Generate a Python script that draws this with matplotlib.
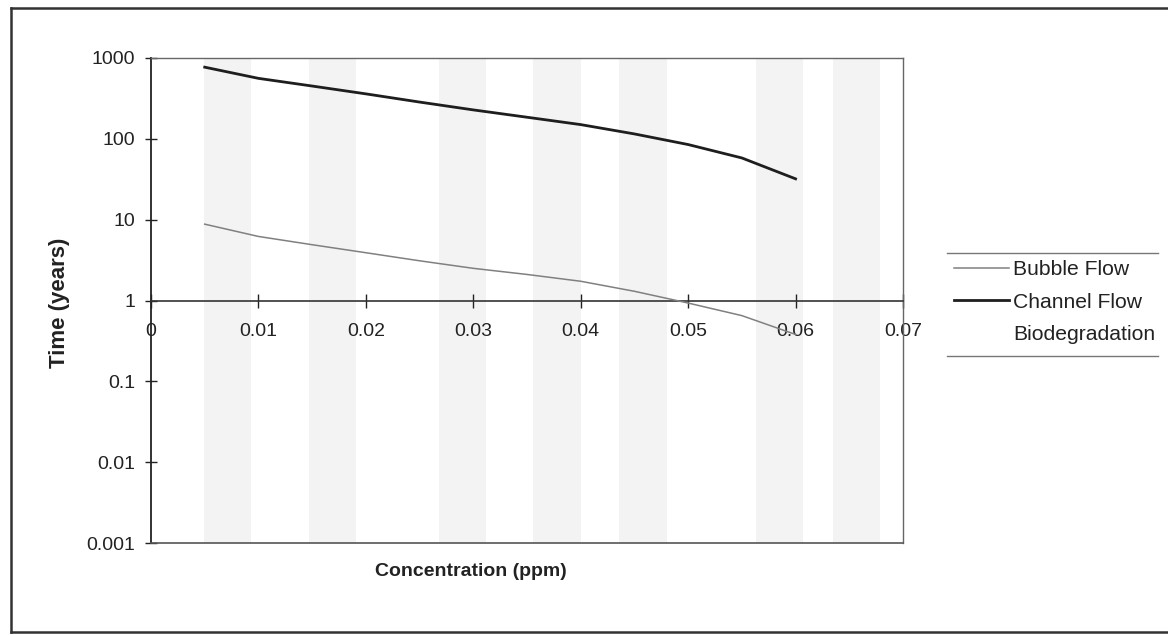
import matplotlib
matplotlib.use("Agg")
import matplotlib.pyplot as plt
from matplotlib.ticker import NullLocator
from matplotlib.lines import Line2D

plt.rcParams['font.family'] = ['Liberation Sans', 'DejaVu Sans']

# ---- data ----
concentration = [0.005, 0.01, 0.015, 0.02, 0.025, 0.03, 0.035, 0.04, 0.045, 0.05, 0.055, 0.06]
bubble_flow = [8.8, 6.2, 4.9, 3.9, 3.1, 2.5, 2.1, 1.73, 1.3, 0.93, 0.65, 0.38]
channel_flow = [770, 560, 450, 360, 285, 228, 185, 150, 115, 85, 58, 32]
biodegradation = []

x_ticks = [0, 0.01, 0.02, 0.03, 0.04, 0.05, 0.06, 0.07]
x_tick_labels = ['0', '0.01', '0.02', '0.03', '0.04', '0.05', '0.06', '0.07']
y_ticks = [0.001, 0.01, 0.1, 1, 10, 100, 1000]
y_tick_labels = ['0.001', '0.01', '0.1', '1', '10', '100', '1000']
series_names = ['Bubble Flow', 'Channel Flow', 'Biodegradation']

# faint scanner bands (style only)
band_centers = [0.0071, 0.0169, 0.029, 0.0378, 0.0458, 0.0585, 0.0657]
band_half = 0.0022

fig = plt.figure(figsize=(11.68, 6.35), dpi=100)
ax = fig.add_axes([151 / 1168, 1 - 543 / 635, (903 - 151) / 1168, (543 - 58) / 635])
ax.set_yscale('log')
ax.set_xlim(0, 0.07)
ax.set_ylim(0.001, 1000)

for c in band_centers:
    ax.axvspan(c - band_half, c + band_half, color='#f3f3f3', lw=0, zorder=0)

ax.plot(concentration, bubble_flow, color='#808080', lw=1.1, label=series_names[0], zorder=3)
ax.plot(concentration, channel_flow, color='#1e1e1e', lw=2.0, label=series_names[1], zorder=3)
ax.plot(biodegradation, biodegradation, color='none', label=series_names[2])

# spines
for s in ['top', 'right']:
    ax.spines[s].set_color('#666666')
    ax.spines[s].set_linewidth(1.0)
ax.spines['left'].set_color('#222222')
ax.spines['left'].set_linewidth(1.3)
ax.spines['bottom'].set_position(('data', 1))
ax.spines['bottom'].set_color('#333333')
ax.spines['bottom'].set_linewidth(1.2)
ax.axhline(0.001, color='#555555', lw=1.2, clip_on=False, zorder=4)

ax.set_xticks(x_ticks)
ax.set_xticklabels(x_tick_labels)
ax.set_yticks(y_ticks)
ax.set_yticklabels(y_tick_labels)
ax.yaxis.set_minor_locator(NullLocator())
ax.xaxis.set_minor_locator(NullLocator())
ax.tick_params(axis='x', direction='inout', length=10, width=1, pad=11, labelsize=14, colors='#222222')
ax.tick_params(axis='y', direction='inout', length=9, width=1, pad=7, labelsize=14, colors='#222222')

fig.text(471 / 1168, 1 - 572 / 635, 'Concentration (ppm)', ha='center', va='center',
         fontsize=14, fontweight='bold', color='#222222')
fig.text(60 / 1168, 1 - 303 / 635, 'Time (years)', ha='center', va='center',
         rotation=90, fontsize=16, fontweight='bold', color='#222222')

# legend
leg = fig.legend(loc='center left', bbox_to_anchor=(954 / 1168, 1 - 302 / 635),
                 bbox_transform=fig.transFigure, frameon=False, fontsize=15.2,
                 handlelength=2.6, handletextpad=0.2, labelspacing=0.62, borderpad=0,
                 borderaxespad=0)
for t in leg.get_texts():
    t.set_color('#222222')
fig.add_artist(Line2D([947 / 1168, 1158 / 1168], [1 - 253 / 635] * 2, color='#777777', lw=1.0))
fig.add_artist(Line2D([947 / 1168, 1158 / 1168], [1 - 356 / 635] * 2, color='#777777', lw=1.0))

# outer frame (left, top, bottom)
fig.add_artist(Line2D([11 / 1168, 11 / 1168], [1 - 8 / 635, 1 - 632 / 635], color='#333333', lw=1.8))
fig.add_artist(Line2D([11 / 1168, 1.0], [1 - 8 / 635] * 2, color='#333333', lw=1.8))
fig.add_artist(Line2D([11 / 1168, 1.0], [1 - 632 / 635] * 2, color='#333333', lw=1.8))

fig.savefig('out.png', dpi=100)
